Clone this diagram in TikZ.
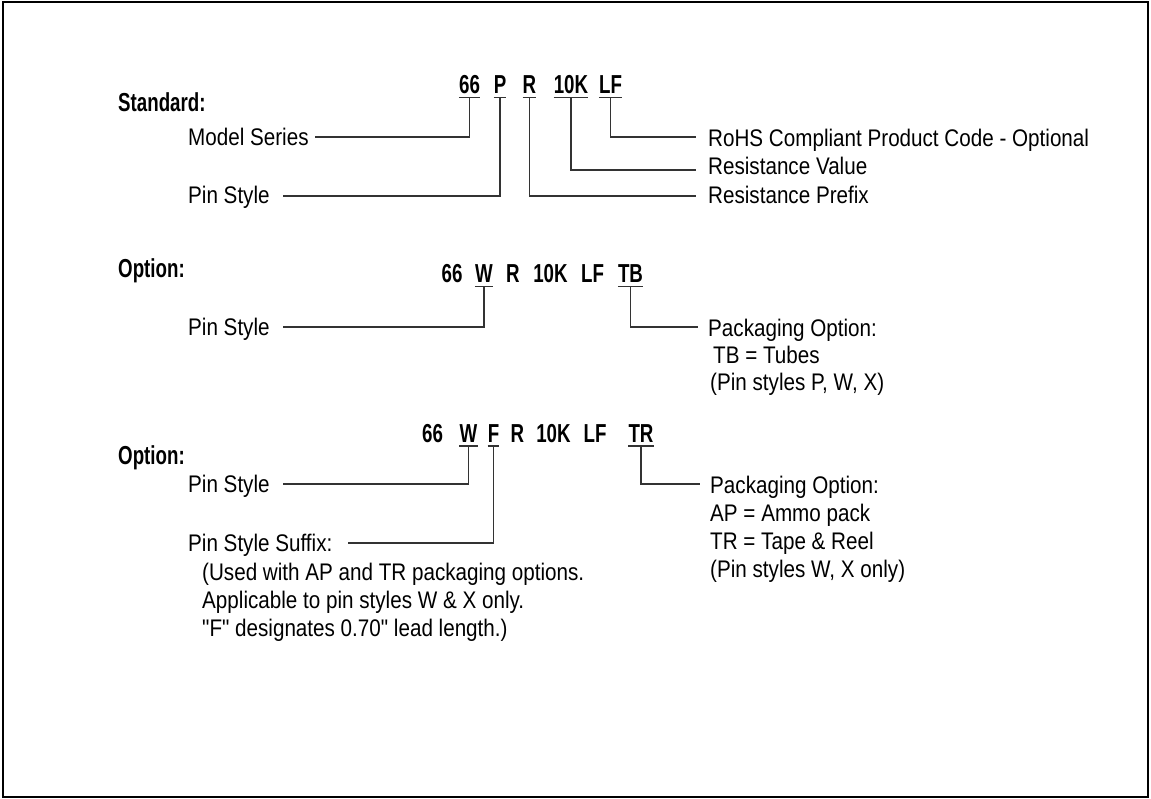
\documentclass[tikz,border=0pt]{standalone}
\usepackage{fontspec}
\setmainfont{Liberation Sans}[FakeStretch=0.86,Ligatures=TeXOff]
\newfontfamily\codefont{Liberation Sans}[FakeStretch=0.72]
\begin{document}
\begin{tikzpicture}[x=1pt,y=-1pt,
  lbl/.style={anchor=base west,inner sep=0pt,font=\fontsize{24}{28}\selectfont},
  head/.style={anchor=base west,inner sep=0pt,font=\codefont\bfseries\fontsize{26}{30}\selectfont},
  seg/.style={anchor=base,inner sep=0pt,font=\codefont\bfseries\fontsize{26}{30}\selectfont},
  conn/.style={draw=black!80,line width=1.3pt},
  frame/.style={draw=black,line width=2pt}]
\useasboundingbox (0,0) rectangle (1151,798);
\draw[frame] (2.5,1.5) rectangle (1148,796.5);

% ---------- Standard ----------
\node[head] (hstd) at (118,111) {Standard:};
\node[seg] (a66) at (469.5,93) {66};
\node[seg] (aP)  at (500,93) {P};
\node[seg] (aR)  at (529.5,93) {R};
\node[seg] (a10K) at (571,93) {10K};
\node[seg] (aLF) at (610.5,93) {LF};
\foreach \s in {a66,aP,aR,a10K,aLF}{
  \coordinate (u\s) at ([yshift=-4.5pt]\s.base);
  \draw[conn] (u\s -| \s.west) -- (u\s -| \s.east);
}
\node[lbl] (lModel) at (188,145.5) {Model Series};
\node[lbl] (lPin1) at (188,203.5) {Pin Style};
\node[lbl] (lRoHS) at (708,146) {RoHS Compliant Product Code - Optional};
\node[lbl] (lRV) at (708,174.5) {Resistance Value};
\node[lbl] (lRP) at (708,203) {Resistance Prefix};
\coordinate (eModel) at (315,137);
\coordinate (ePin1) at (283,196);
\coordinate (eRoHS) at (696,137);
\coordinate (eRV) at (696,170);
\coordinate (eRP) at (696,196);
\draw[conn] (ua66) |- (eModel);
\draw[conn] (uaP) |- (ePin1);
\draw[conn] (uaR) |- (eRP);
\draw[conn] (ua10K) |- (eRV);
\draw[conn] (uaLF) |- (eRoHS);

% ---------- Option 1 ----------
\node[head] (hopt1) at (118,277) {Option:};
\node[seg] (b66) at (452,282) {66};
\node[seg] (bW)  at (484,282) {W};
\node[seg] (bR)  at (513,282) {R};
\node[seg] (b10K) at (550.5,282) {10K};
\node[seg] (bLF) at (592.5,282) {LF};
\node[seg] (bTB) at (630.5,282) {TB};
\foreach \s in {bW,bTB}{
  \coordinate (u\s) at ([yshift=-4.5pt]\s.base);
  \draw[conn] (u\s -| \s.west) -- (u\s -| \s.east);
}
\node[lbl] (lPin2) at (188,335) {Pin Style};
\node[lbl] (lPack1) at (708,336) {Packaging Option:};
\node[lbl] (lTB) at (713,363) {TB = Tubes};
\node[lbl] (lPS1) at (710,390.5) {(Pin styles P, W, X)};
\coordinate (ePin2) at (283,327);
\coordinate (ePack1) at (698,327);
\draw[conn] (ubW) |- (ePin2);
\draw[conn] (ubTB) |- (ePack1);

% ---------- Option 2 ----------
\node[head] (hopt2) at (118,464) {Option:};
\node[seg] (c66) at (432.5,442) {66};
\node[seg] (cW)  at (468.5,442) {W};
\node[seg] (cF)  at (493.5,442) {F};
\node[seg] (cR)  at (517.5,442) {R};
\node[seg] (c10K) at (553.5,442) {10K};
\node[seg] (cLF) at (595,442) {LF};
\node[seg] (cTR) at (641,442) {TR};
\foreach \s in {cW,cF,cTR}{
  \coordinate (u\s) at ([yshift=-4pt]\s.base);
  \draw[conn] (u\s -| \s.west) -- (u\s -| \s.east);
}
\node[lbl] (lPin3) at (188,492) {Pin Style};
\node[lbl] (lSuf) at (188,551) {Pin Style Suffix:};
\node[lbl] (lSuf1) at (202,580) {(Used with AP and TR packaging options.};
\node[lbl] (lSuf2) at (202,608) {Applicable to pin styles W \& X only.};
\node[lbl] (lSuf3) at (202,636) {"F" designates 0.70" lead length.)};
\node[lbl] (lPack2) at (710,493) {Packaging Option:};
\node[lbl] (lAP) at (710,521.5) {AP = Ammo pack};
\node[lbl] (lTR) at (710,549) {TR = Tape \& Reel};
\node[lbl] (lPS2) at (710,577) {(Pin styles W, X only)};
\coordinate (ePin3) at (283,484);
\coordinate (eSuf) at (348,543);
\coordinate (ePack2) at (700,484);
\draw[conn] (ucW) |- (ePin3);
\draw[conn] (ucF) |- (eSuf);
\draw[conn] (ucTR) |- (ePack2);
\end{tikzpicture}
\end{document}
